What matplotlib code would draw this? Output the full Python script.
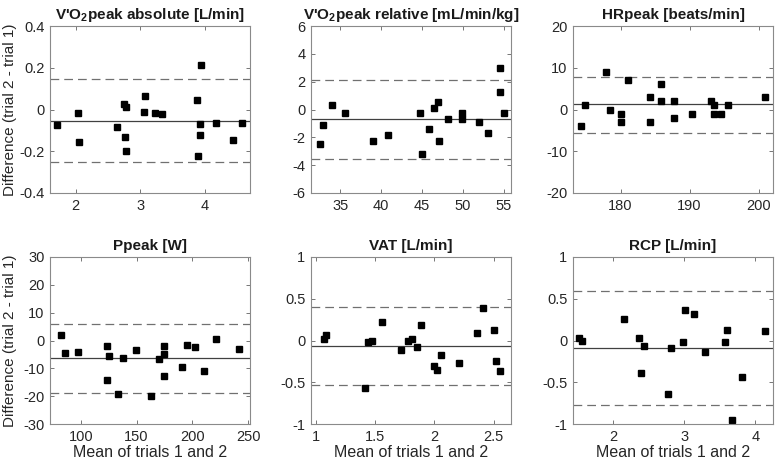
import numpy as np
import matplotlib
matplotlib.use("Agg")
import matplotlib.pyplot as plt
from matplotlib.ticker import FuncFormatter

plt.rcParams['font.family'] = ['Liberation Sans', 'DejaVu Sans']
plt.rcParams['mathtext.fontset'] = 'custom'
plt.rcParams['mathtext.rm'] = 'Liberation Sans'
plt.rcParams['mathtext.bf'] = 'Liberation Sans:bold'
plt.rcParams['axes.unicode_minus'] = False

# panel data: mean of trials (x), difference (y), bias and limits of agreement
vo2abs_x = [1.71, 2.03, 2.05, 2.64, 2.75, 2.78, 2.76, 2.78, 3.08, 3.06,
            3.22, 3.34, 3.88, 3.94, 3.93, 3.93, 3.90, 4.17, 4.44, 4.57]
vo2abs_y = [-0.074, -0.016, -0.154, -0.083, 0.024, 0.011, -0.134, -0.200, 0.067, -0.013,
            -0.018, -0.022, 0.045, 0.213, -0.069, -0.120, -0.224, -0.064, -0.144, -0.064]
vo2abs_loa = [-0.053, 0.147, -0.253]

vo2rel_x = [32.5, 32.9, 34.0, 35.6, 39.0, 40.8, 44.8, 45.0, 45.9, 46.5,
            46.9, 47.1, 48.2, 49.9, 49.9, 52.0, 53.1, 54.5, 54.5, 55.0]
vo2rel_y = [-2.48, -1.08, 0.34, -0.24, -2.29, -1.86, -0.24, -3.20, -1.37, 0.12,
            0.53, -2.29, -0.65, -0.24, -0.65, -0.89, -1.66, 2.96, 1.25, -0.24]
vo2rel_loa = [-0.67, 2.12, -3.57]

hr_x = [174.3, 174.8, 177.9, 178.5, 180.0, 180.0, 181.1, 184.2, 184.2, 185.8,
        185.8, 187.8, 187.8, 190.4, 193.1, 193.6, 193.6, 194.6, 195.6, 200.9]
hr_y = [-4, 1, 9, 0, -1, -3, 7, 3, -3, 6,
        2, 2, -2, -1, 2, 1, -1, -1, 1, 3]
hr_loa = [1.2, 7.9, -5.6]

pp_x = [82.0, 85.9, 97.9, 123.7, 123.1, 125.2, 133.3, 138.1, 149.2, 170.0,
        163.0, 174.5, 174.5, 174.5, 190.4, 195.2, 202.1, 210.0, 221.3, 241.4]
pp_y = [1.9, -4.5, -4.1, -1.9, -14.1, -5.7, -19.3, -6.3, -3.4, -6.6,
        -20.1, -1.9, -4.8, -12.9, -9.4, -1.6, -2.3, -10.8, 0.5, -3.0]
pp_loa = [-6.4, 5.8, -18.9]

vat_x = [1.065, 1.082, 1.41, 1.44, 1.47, 1.56, 1.72, 1.78, 1.81, 1.85,
         1.89, 2.00, 2.02, 2.06, 2.21, 2.36, 2.41, 2.50, 2.52, 2.55]
vat_y = [0.020, 0.068, -0.572, -0.012, -0.004, 0.220, -0.108, 0.000, 0.012, -0.072,
         0.184, -0.308, -0.356, -0.168, -0.272, 0.088, 0.384, 0.128, -0.248, -0.364]
vat_loa = [-0.068, 0.396, -0.532]

rcp_x = [1.52, 1.56, 2.15, 2.37, 2.44, 2.39, 2.78, 2.81, 2.99, 3.01,
         3.14, 3.29, 3.57, 3.61, 3.81, 3.68, 4.14]
rcp_y = [0.028, -0.004, 0.253, 0.028, -0.064, -0.394, -0.635, -0.088, -0.020, 0.361,
         0.321, -0.137, -0.020, 0.124, -0.442, -0.952, 0.112]
rcp_loa = [-0.088, 0.594, -0.771]

titles = [r"V'O$_\mathbf{2}$peak absolute [L/min]", r"V'O$_\mathbf{2}$peak relative [mL/min/kg]",
          "HRpeak [beats/min]", "Ppeak [W]", "VAT [L/min]", "RCP [L/min]"]

panels = [
    (vo2abs_x, vo2abs_y, vo2abs_loa, (1.6, 4.7), (-0.4, 0.4), [2, 3, 4], np.arange(-0.4, 0.41, 0.2)),
    (vo2rel_x, vo2rel_y, vo2rel_loa, (31.4, 55.9), (-6, 6), [35, 40, 45, 50, 55], np.arange(-6, 7, 2)),
    (hr_x, hr_y, hr_loa, (173.1, 202.1), (-20, 20), [180, 190, 200], np.arange(-20, 21, 10)),
    (pp_x, pp_y, pp_loa, (72.5, 251.5), (-30, 30), [100, 150, 200, 250], np.arange(-30, 31, 10)),
    (vat_x, vat_y, vat_loa, (0.958, 2.647), (-1, 1), [1, 1.5, 2, 2.5], np.arange(-1, 1.01, 0.5)),
    (rcp_x, rcp_y, rcp_loa, (1.44, 4.25), (-1, 1), [2, 3, 4], np.arange(-1, 1.01, 0.5)),
]

fig = plt.figure(figsize=(7.75, 4.66), dpi=100)
W, H = 775, 466
lefts = [50, 311, 573]
tops = [26, 257]
aw, ah = 200, 167

fmt = FuncFormatter(lambda v, p: ('%g' % round(v, 6)))

for i, (x, y, loa, xl, yl, xt, yt) in enumerate(panels):
    r, c = divmod(i, 3)
    ax = fig.add_axes([lefts[c] / W, 1 - (tops[r] + ah) / H, aw / W, ah / H])
    ax.axhline(loa[0], color='#404040', lw=0.9)
    ax.axhline(loa[1], color='#707070', lw=0.9, ls=(0, (7, 4)))
    ax.axhline(loa[2], color='#707070', lw=0.9, ls=(0, (7, 4)))
    ax.plot(x, y, 's', color='black', markersize=4.6, ls='none')
    ax.set_xlim(xl)
    ax.set_ylim(yl)
    ax.set_xticks(xt)
    ax.set_yticks(yt)
    ax.xaxis.set_major_formatter(fmt)
    ax.yaxis.set_major_formatter(fmt)
    ax.tick_params(direction='in', top=True, right=True, length=3, width=0.6,
                   color='#606060', labelsize=10.5, labelcolor='#262626', pad=4)
    for s in ax.spines.values():
        s.set_color('#8a8a8a')
        s.set_linewidth(0.8)
    ax.set_title(titles[i], fontsize=11, fontweight='bold', pad=5, color='#1a1a1a')
    if c == 0:
        ax.set_ylabel('Difference (trial 2 - trial 1)', fontsize=11, color='#262626')
        ax.yaxis.set_label_coords(-0.165, 0.5)
    if r == 1:
        ax.set_xlabel('Mean of trials 1 and 2', fontsize=11.5, color='#262626', labelpad=1)

fig.savefig('out.png', dpi=100)
